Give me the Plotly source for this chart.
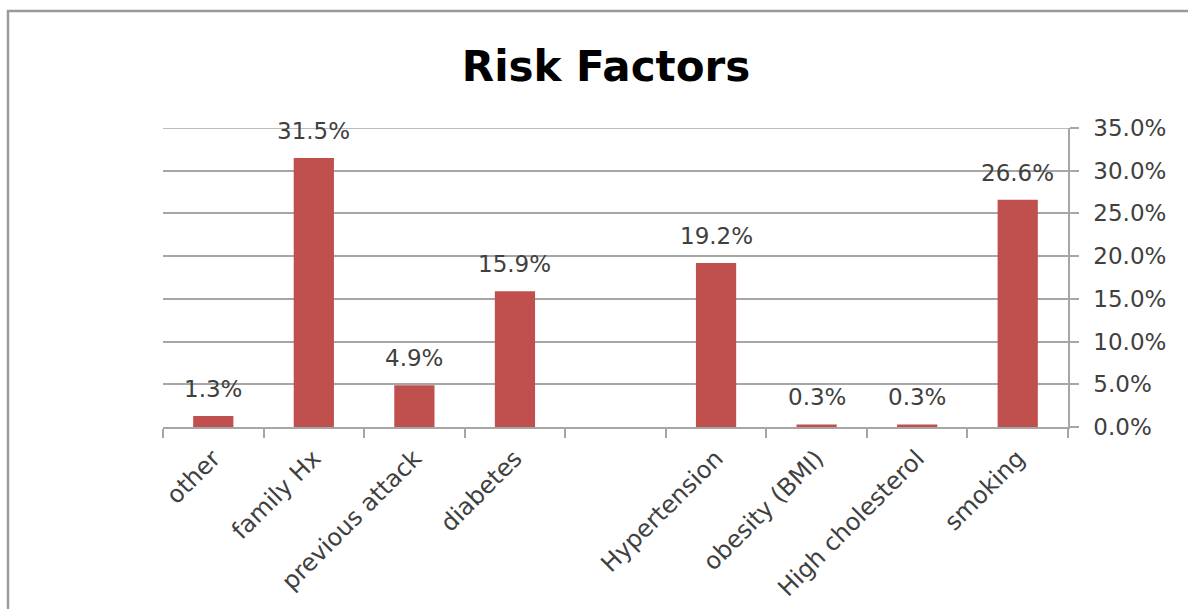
import plotly.graph_objects as go

categories = ["other", "family Hx", "previous attack", "diabetes", " ",
              "Hypertension", "obesity (BMI)", "High cholesterol", "smoking"]
values = [1.3, 31.5, 4.9, 15.9, None, 19.2, 0.3, 0.3, 26.6]
y_ticks = [0, 5, 10, 15, 20, 25, 30, 35]
y_tick_labels = ["0.0%", "5.0%", "10.0%", "15.0%", "20.0%", "25.0%", "30.0%", "35.0%"]

FONT = "DejaVu Sans"
TXT = "#404040"
GRID = "#a6a6a6"

fig = go.Figure()
fig.add_trace(go.Bar(x=categories, y=values, marker=dict(color="#C0504D", line=dict(width=0)),
                     width=0.4, showlegend=False))

annotations = []
for c, v in zip(categories, values):
    if v is None:
        continue
    annotations.append(dict(x=c, y=v, xref="x", yref="y", text=f"{v:.1f}%", showarrow=False,
                            yanchor="bottom", yshift=12, font=dict(family=FONT, size=23, color=TXT)))

fig.update_layout(
    width=1188, height=609,
    margin=dict(l=163, r=120, t=128, b=182, autoexpand=False),
    paper_bgcolor="white", plot_bgcolor="white",
    title=dict(text="<b>Risk Factors</b>", x=(606 - 163) / 905, xref="paper", xanchor="center",
               y=1 - 66 / 609, yanchor="middle", font=dict(family=FONT, size=42, color="black")),
    annotations=annotations,
    xaxis=dict(type="category", categoryorder="array", categoryarray=categories,
               tickangle=-45, tickfont=dict(family=FONT, size=24, color=TXT),
               ticklabelstandoff=6, automargin=False,
               showline=True, linecolor=GRID, linewidth=1.5,
               ticks="outside", tickson="boundaries", ticklen=9, tickcolor=GRID, tickwidth=1.5,
               showgrid=False, range=[-0.5, 8.5]),
    yaxis=dict(side="right", range=[0, 35], tickvals=y_ticks, ticktext=y_tick_labels,
               tickfont=dict(family=FONT, size=23, color=TXT), ticklabelstandoff=10,
               automargin=False,
               showgrid=True, gridcolor=GRID, gridwidth=1.5, zeroline=False,
               showline=True, linecolor=GRID, linewidth=1.5,
               ticks="outside", ticklen=9, tickcolor=GRID, tickwidth=1.5),
    shapes=[dict(type="rect", xref="paper", yref="paper",
                 x0=(8 - 163) / 905, x1=(1200 - 163) / 905,
                 y0=(427 - 620) / 299, y1=(427 - 11) / 299,
                 line=dict(color="#9a9a9a", width=2.5), fillcolor="rgba(0,0,0,0)", layer="below"),
            dict(type="line", xref="paper", yref="y", x0=0, x1=1,
                 y0=y_ticks[-1], y1=y_ticks[-1],
                 line=dict(color=GRID, width=1.5), layer="below")],
)

fig.write_html("out.html")
